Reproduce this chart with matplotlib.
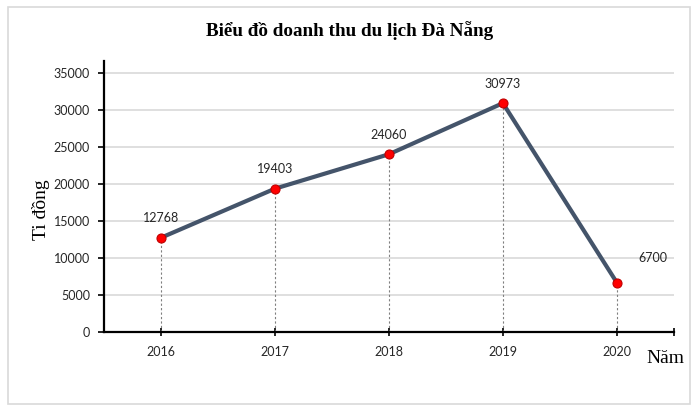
import matplotlib
matplotlib.use("Agg")
import matplotlib.pyplot as plt
from matplotlib.patches import Rectangle

years = ["2016", "2017", "2018", "2019", "2020"]
revenue = [12768, 19403, 24060, 30973, 6700]
y_ticks = [0, 5000, 10000, 15000, 20000, 25000, 30000, 35000]

fig = plt.figure(figsize=(7, 4.11), dpi=100)
ax = fig.add_axes([0.1486, 0.192, 0.814, 0.66])

# light frame around the whole chart
fig.patches.append(Rectangle((0.012, 0.017), 0.974, 0.966, transform=fig.transFigure,
                             fill=False, edgecolor="#d9d9d9", linewidth=1.2))

x = list(range(len(years)))
ax.set_xlim(-0.5, len(years) - 0.5)
ax.set_ylim(0, 36700)

ax.set_yticks(y_ticks)
ax.yaxis.grid(True, color="#d9d9d9", linewidth=1.2)
ax.set_axisbelow(True)

# drop lines to the category axis
for xi, v in zip(x, revenue):
    ax.plot([xi, xi], [0, v], color="#7f7f7f", linestyle=(0, (2, 2)), linewidth=0.8, zorder=1)

ax.plot(x, revenue, color="#44546a", linewidth=3, zorder=2)
ax.plot(x, revenue, linestyle="none", marker="o", markersize=6.5,
        markerfacecolor="#ff0000", markeredgecolor="#c00000", markeredgewidth=0.8, zorder=3)

for xi, v in zip(x, revenue):
    if xi == len(years) - 1:
        ax.annotate(str(v), (xi, v), xytext=(26, 18), textcoords="offset points",
                    ha="center", va="center", fontsize=9, family="Lato", color="#262626")
    else:
        ax.annotate(str(v), (xi, v), xytext=(0, 14), textcoords="offset points",
                    ha="center", va="center", fontsize=9, family="Lato", color="#262626")

ax.set_xticks(x + [len(years) - 0.5])
ax.set_xticklabels(years + [""])

for s in ["top", "right"]:
    ax.spines[s].set_visible(False)
ax.spines["left"].set_linewidth(1.6)
ax.spines["bottom"].set_linewidth(1.6)

ax.tick_params(axis="y", direction="out", length=4, width=1.2, labelsize=9, pad=6, colors="black")
ax.tick_params(axis="x", direction="inout", length=6, width=1.2, labelsize=9, pad=7, colors="black")
for lbl in ax.get_xticklabels() + ax.get_yticklabels():
    lbl.set_family("Lato")
    lbl.set_color("#262626")

fig.text(0.5, 0.925, "Biểu đồ doanh thu du lịch Đà Nẵng", ha="center", va="center",
         fontsize=13.8, fontweight="bold", family="Liberation Serif")
fig.text(0.058, 0.489, "Ti đồng", rotation=90, ha="center", va="center",
         fontsize=14, family="Liberation Serif")
fig.text(0.95, 0.127, "Năm", ha="center", va="center",
         fontsize=14, family="Liberation Serif")

fig.savefig("out.png", dpi=100)
